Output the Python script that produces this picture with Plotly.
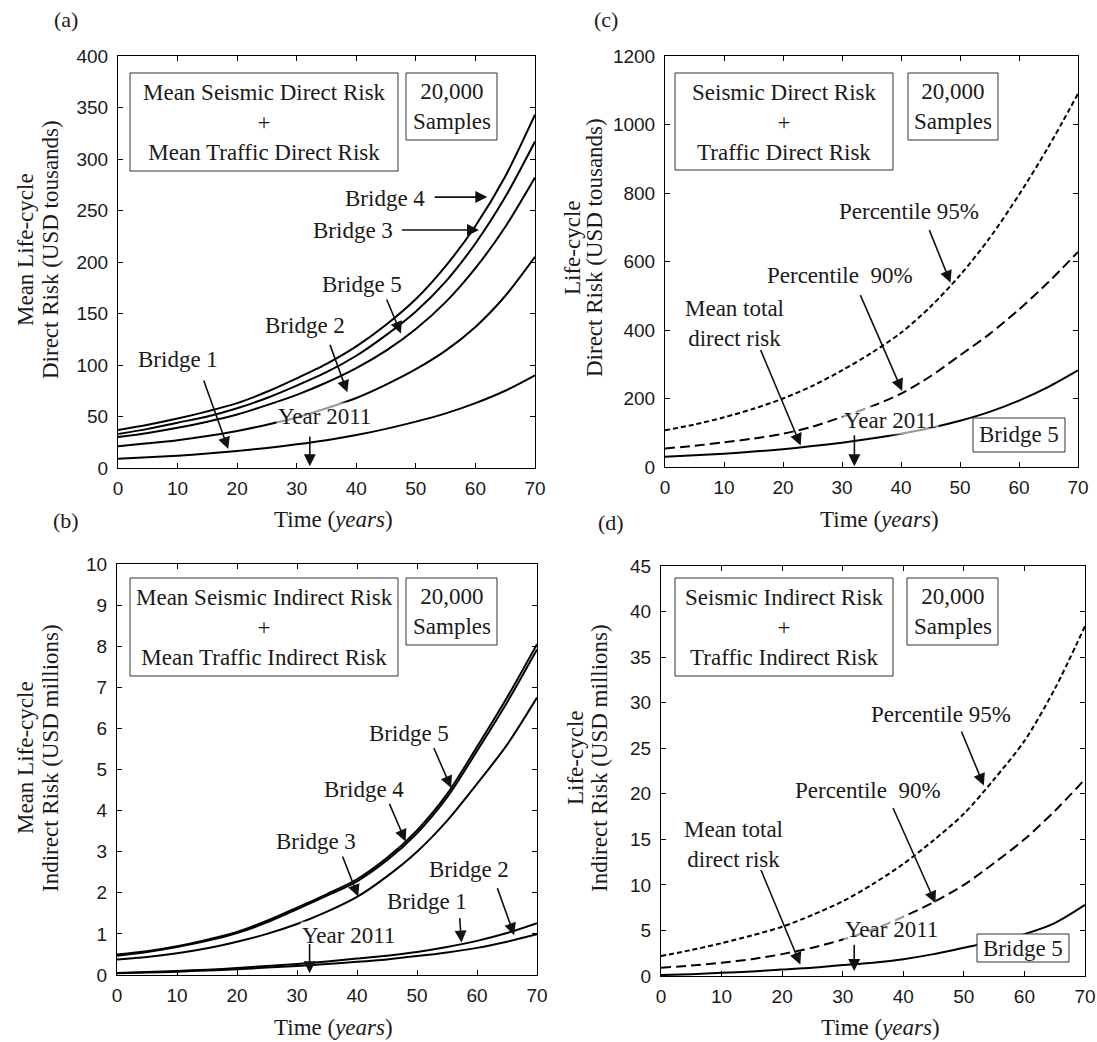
import plotly.graph_objects as go

W, H = 1097, 1042

# ---------------- data ----------------
T = [0, 5, 10, 15, 20, 25, 30, 35, 40, 45, 50, 55, 60, 65, 70]

# (a) Mean life-cycle direct risk (USD thousands)
A_BRIDGE4 = [37, 42, 48, 55, 63, 74, 87, 101, 118, 139, 164, 196, 235, 283, 343]
A_BRIDGE3 = [33, 38, 44, 50, 58, 68, 80, 93, 109, 129, 152, 181, 218, 263, 317]
A_BRIDGE5 = [30, 34, 39, 45, 52, 61, 71, 83, 97, 114, 135, 161, 194, 234, 282]
A_BRIDGE2 = [21, 24, 27, 31, 36, 42, 49, 58, 68, 81, 96, 114, 137, 167, 205]
A_BRIDGE1 = [9, 10.5, 12, 14, 16.5, 19.5, 23, 27, 32, 38, 45, 53, 63, 75, 90]

# (c) Life-cycle direct risk, Bridge 5 (USD thousands)
C_MEAN = [30, 34, 39, 45, 52, 61, 71, 83, 97, 114, 135, 161, 194, 234, 282]
C_P90 = [54, 62, 72, 83, 97, 118, 146, 177, 214, 265, 326, 388, 460, 540, 628]
C_P95 = [107, 124, 145, 170, 200, 237, 282, 333, 392, 468, 560, 668, 795, 935, 1090]

# (b) Mean life-cycle indirect risk (USD millions)
B_BRIDGE5 = [0.50, 0.58, 0.70, 0.86, 1.05, 1.32, 1.64, 1.97, 2.33, 2.85, 3.52, 4.40, 5.55, 6.75, 8.05]
B_BRIDGE4 = [0.47, 0.56, 0.68, 0.83, 1.02, 1.28, 1.60, 1.93, 2.28, 2.79, 3.45, 4.32, 5.45, 6.63, 7.92]
B_BRIDGE3 = [0.38, 0.44, 0.53, 0.65, 0.81, 1.00, 1.24, 1.54, 1.90, 2.40, 3.00, 3.75, 4.65, 5.60, 6.75]
B_BRIDGE1 = [0.05, 0.07, 0.10, 0.13, 0.17, 0.22, 0.27, 0.33, 0.40, 0.47, 0.56, 0.68, 0.83, 1.02, 1.26]
B_BRIDGE2 = [0.04, 0.06, 0.08, 0.11, 0.14, 0.18, 0.22, 0.27, 0.32, 0.38, 0.46, 0.55, 0.66, 0.81, 0.99]

# (d) Life-cycle indirect risk, Bridge 5 (USD millions)
D_MEAN = [0.1, 0.2, 0.35, 0.5, 0.7, 0.9, 1.2, 1.45, 1.85, 2.4, 3.1, 3.8, 4.6, 5.8, 7.8]
D_P90 = [0.9, 1.15, 1.45, 1.85, 2.4, 3.1, 4.0, 5.1, 6.5, 8.1, 10.0, 12.4, 15.0, 18.1, 21.6]
D_P95 = [2.2, 2.85, 3.6, 4.45, 5.4, 6.7, 8.2, 10.1, 12.3, 14.9, 17.8, 21.6, 25.8, 31.5, 38.4]

X_TICKS = [0, 10, 20, 30, 40, 50, 60, 70]
A_YTICKS = [0, 50, 100, 150, 200, 250, 300, 350, 400]
C_YTICKS = [0, 200, 400, 600, 800, 1000, 1200]
B_YTICKS = [0, 1, 2, 3, 4, 5, 6, 7, 8, 9, 10]
D_YTICKS = [0, 5, 10, 15, 20, 25, 30, 35, 40, 45]

SERIF = "Liberation Serif, Times New Roman, serif"
SANS = "Liberation Sans, Arial, sans-serif"
TXT = 23


def px(x):
    return x / W


def py(y):
    return 1 - y / H


fig = go.Figure()

# panel definitions: axis ids, pixel box (left, right, top, bottom), y ticks
panels = [
    ("x", "y", (118, 535, 56, 468), A_YTICKS),
    ("x2", "y2", (665, 1078, 56, 467), C_YTICKS),
    ("x3", "y3", (117, 537, 564, 975), B_YTICKS),
    ("x4", "y4", (661, 1085, 566, 976), D_YTICKS),
]

axis_common = dict(
    showline=True, linecolor="black", linewidth=1, mirror="ticks",
    ticks="inside", ticklen=5, tickcolor="black", tickwidth=1,
    showgrid=False, zeroline=False, automargin=False,
    tickfont=dict(family=SANS, size=19, color="#1a1a1a"),
)

for xa, ya, (l, r, t, b), yt in panels:
    xkey = "xaxis" + xa[1:]
    ykey = "yaxis" + ya[1:]
    fig.layout[xkey] = dict(axis_common, domain=[px(l), px(r)], anchor=ya,
                            range=[0, 70], tickvals=X_TICKS,
                            ticklabelstandoff=3)
    fig.layout[ykey] = dict(axis_common, domain=[py(b), py(t)], anchor=xa,
                            range=[yt[0], yt[-1]], tickvals=yt,
                            ticklabelstandoff=5)


def line(xa, ya, ys, dash="solid", width=2):
    fig.add_trace(go.Scatter(x=T, y=ys, mode="lines", xaxis=xa, yaxis=ya,
                             line=dict(color="black", width=width, dash=dash,
                                       shape="spline", smoothing=0.8),
                             showlegend=False, hoverinfo="skip"))


# (a)
for s in [A_BRIDGE4, A_BRIDGE3, A_BRIDGE5, A_BRIDGE2, A_BRIDGE1]:
    line("x", "y", s)
# (c)
line("x2", "y2", C_MEAN)
line("x2", "y2", C_P90, dash="10px,5px")
line("x2", "y2", C_P95, dash="5px,3px")
# (b)
for s in [B_BRIDGE5, B_BRIDGE4, B_BRIDGE3, B_BRIDGE1, B_BRIDGE2]:
    line("x3", "y3", s)
# (d)
line("x4", "y4", D_MEAN)
line("x4", "y4", D_P90, dash="10px,5px")
line("x4", "y4", D_P95, dash="5px,3px")

ann = []
shapes = []


def label(xr, yr, x, y, text, bg=None):
    d = dict(xref=xr, yref=yr, x=x, y=y, text=text, showarrow=False,
             font=dict(family=SERIF, size=TXT, color="#1a1a1a"),
             xanchor="center", yanchor="middle")
    if bg:
        d["bgcolor"] = bg
    ann.append(d)


def arrow(xr, yr, x0, y0, x1, y1):
    ann.append(dict(xref=xr, yref=yr, axref=xr, ayref=yr,
                    ax=x0, ay=y0, x=x1, y=y1, text="", showarrow=True,
                    arrowhead=2, arrowsize=1.5, arrowwidth=1.6,
                    arrowcolor="#111", standoff=0, startstandoff=0))


def box(l, r, t, b, fill="white"):
    shapes.append(dict(type="rect", xref="paper", yref="paper",
                       x0=px(l), x1=px(r), y0=py(b), y1=py(t),
                       line=dict(color="#333", width=1), fillcolor=fill,
                       layer="above"))


def ptext(x, y, text, size=TXT, angle=0, family=SERIF):
    ann.append(dict(xref="paper", yref="paper", x=px(x), y=py(y), text=text,
                    showarrow=False, textangle=angle,
                    font=dict(family=family, size=size, color="#1a1a1a"),
                    xanchor="center", yanchor="middle"))


# ---- panel (a) annotations ----
label("x", "y", 44.9, 262, "Bridge 4")
arrow("x", "y", 52.9, 263, 62, 263)
label("x", "y", 39.4, 231, "Bridge 3")
arrow("x", "y", 47.4, 231, 60.6, 231)
label("x", "y", 40.9, 178, "Bridge 5")
arrow("x", "y", 45, 165, 47.5, 130.5)
label("x", "y", 31.4, 138, "Bridge 2")
arrow("x", "y", 35.5, 121, 38.5, 73.5)
label("x", "y", 10.1, 105, "Bridge 1")
arrow("x", "y", 14.3, 86.5, 18.5, 18.5)
label("x", "y", 34.7, 50, "Year 2011", bg="rgba(255,255,255,0.6)")
arrow("x", "y", 32.2, 32, 32.2, 1.6)

# ---- panel (c) annotations ----
label("x2", "y2", 41.3, 745, "Percentile 95%")
arrow("x2", "y2", 44.7, 696, 48.4, 538)
label("x2", "y2", 29.6, 560, "Percentile  90%")
arrow("x2", "y2", 33, 506, 40.2, 222)
label("x2", "y2", 11.7, 420, "Mean total<br>direct risk")
arrow("x2", "y2", 16.1, 346, 23, 63)
label("x2", "y2", 38.3, 136, "Year 2011", bg="rgba(255,255,255,0.6)")
arrow("x2", "y2", 32.1, 97, 32.1, 2)

# ---- panel (b) annotations ----
label("x3", "y3", 48.6, 5.88, "Bridge 5")
arrow("x3", "y3", 52.7, 5.56, 55.7, 4.55)
label("x3", "y3", 41.1, 4.52, "Bridge 4")
arrow("x3", "y3", 45.3, 4.2, 48.1, 3.25)
label("x3", "y3", 33.2, 3.25, "Bridge 3")
arrow("x3", "y3", 37.5, 2.92, 40.2, 1.91)
label("x3", "y3", 58.7, 2.56, "Bridge 2")
arrow("x3", "y3", 63.3, 2.15, 66.2, 0.97)
label("x3", "y3", 51.7, 1.79, "Bridge 1")
arrow("x3", "y3", 57.1, 1.42, 57.4, 0.79)
label("x3", "y3", 38.5, 0.97, "Year 2011", bg="rgba(255,255,255,0.6)")
arrow("x3", "y3", 32.1, 0.79, 32.1, 0.04)

# ---- panel (d) annotations ----
label("x4", "y4", 46.3, 28.7, "Percentile 95%")
arrow("x4", "y4", 49.5, 27, 53.3, 20.9)
label("x4", "y4", 34.1, 20.4, "Percentile  90%")
arrow("x4", "y4", 38.2, 18.6, 45.3, 8.0)
label("x4", "y4", 12.0, 14.4, "Mean total<br>direct risk")
arrow("x4", "y4", 16.4, 11.8, 23, 1.27)
label("x4", "y4", 38, 5.1, "Year 2011", bg="rgba(255,255,255,0.6)")
arrow("x4", "y4", 31.9, 3.6, 31.9, 0.55)

# ---- boxes with text ----
box(130, 398, 73, 171)
ptext(264, 122, "Mean Seismic Direct Risk<br>+<br>Mean Traffic Direct Risk")
box(406, 497, 73, 140)
ptext(451.5, 106, "20,000<br>Samples")

box(675, 893, 73, 170)
ptext(784, 122, "Seismic Direct Risk<br>+<br>Traffic Direct Risk")
box(908, 998, 73, 140)
ptext(953, 106, "20,000<br>Samples")
box(973, 1065, 418, 452)
ptext(1019, 435, "Bridge 5")

box(130, 398, 578, 676)
ptext(264, 627, "Mean Seismic Indirect Risk<br>+<br>Mean Traffic Indirect Risk")
box(406, 497, 578, 645)
ptext(451.5, 611, "20,000<br>Samples")

box(675, 893, 578, 676)
ptext(784, 627, "Seismic Indirect Risk<br>+<br>Traffic Indirect Risk")
box(907, 998, 578, 645)
ptext(952.5, 611, "20,000<br>Samples")
box(977, 1069, 934, 962)
ptext(1023, 948, "Bridge 5")

# ---- axis titles ----
XT = "Time (<i>years</i>)"
ptext(333, 519, XT)
ptext(879, 519, XT)
ptext(333, 1027, XT)
ptext(880, 1027, XT)

ptext(25, 250, "Mean Life-cycle", angle=-90)
ptext(50, 250, "Direct Risk (USD tousands)", angle=-90)
ptext(573, 248, "Life-cycle", angle=-90)
ptext(595, 248, "Direct Risk (USD tousands)", angle=-90)
ptext(25, 758, "Mean Life-cycle", angle=-90)
ptext(50, 758, "Indirect Risk (USD millions)", angle=-90)
ptext(575, 758, "Life-cycle", angle=-90)
ptext(599, 758, "Indirect Risk (USD millions)", angle=-90)

# ---- panel letters ----
ptext(66, 20, "(a)", size=22)
ptext(606, 20, "(c)", size=22)
ptext(66, 520, "(b)", size=22)
ptext(611, 522, "(d)", size=22)

fig.update_layout(
    width=W, height=H, margin=dict(l=0, r=0, t=0, b=0),
    paper_bgcolor="white", plot_bgcolor="white",
    annotations=ann, shapes=shapes, showlegend=False,
)

fig.write_html(
    "out.html",
    config={"displayModeBar": False},
    post_script="document.body.style.margin='0px';"
                "document.body.style.overflow='hidden';",
)
